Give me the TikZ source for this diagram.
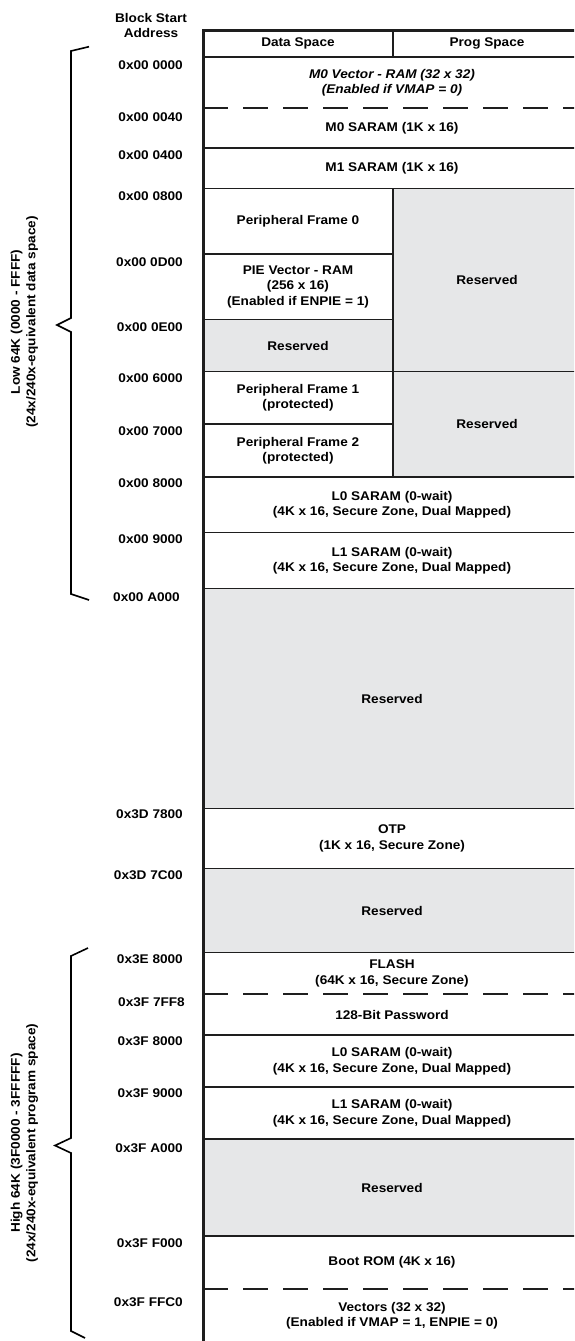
\documentclass[tikz,border=0pt]{standalone}
\usepackage{fontspec}
\setmainfont{Liberation Sans}[FakeStretch=1.08]
\newcommand\lblfont{\fontsize{12.6}{15.5}\selectfont\bfseries}
\definecolor{resgray}{RGB}{230,231,232}
\definecolor{ink}{RGB}{30,30,30}
\begin{document}
\begin{tikzpicture}[x=1pt,y=-1pt,
  cell/.style={anchor=north west, inner sep=0pt, outer sep=0pt, align=center,
               font=\lblfont, text=black, fill=white},
  res/.style={cell, fill=resgray},
  full/.style={minimum width=378pt},
  half/.style={minimum width=190pt},
  halfr/.style={minimum width=188pt},
  sep/.style={draw=ink, line width=1.3pt},
  dsep/.style={sep, dash pattern=on 25pt off 15pt},
  frame/.style={draw=ink, line width=3pt},
  brace/.style={draw=black, line width=1.6pt},
  addr/.style={anchor=east, inner sep=0pt, font=\lblfont},
  side/.style={rotate=90, align=center, inner sep=0pt, font=\lblfont}]
\clip (0,0) rectangle (574,1341);
\fill[white] (0,0) rectangle (574,1341);
% cells
\node[cell, half, minimum height=26.5pt] (dsh) at (203,30.5) {Data Space};
\node[cell, halfr, minimum height=26.5pt] (psh) at (393,30.5) {Prog Space};
\node[cell, full, minimum height=51pt] (m0v) at (203,57) {\itshape M0 Vector - RAM (32 x 32)\\\itshape (Enabled if VMAP = 0)};
\node[cell, full, minimum height=40pt] (m0s) at (203,108) {M0 SARAM (1K x 16)};
\node[cell, full, minimum height=40.5pt] (m1s) at (203,148) {M1 SARAM (1K x 16)};
\node[cell, half, minimum height=65.5pt] (pf0) at (203,188.5) {Peripheral Frame 0};
\node[res, halfr, minimum height=183pt] (resA) at (393,188.5) {Reserved};
\node[cell, half, minimum height=65.5pt] (pie) at (203,254) {PIE Vector - RAM\\(256 x 16)\\(Enabled if ENPIE = 1)};
\node[res, half, minimum height=52pt] (resB) at (203,319.5) {Reserved};
\node[cell, half, minimum height=52.5pt] (pf1) at (203,371.5) {Peripheral Frame 1\\(protected)};
\node[res, halfr, minimum height=105.5pt] (resC) at (393,371.5) {Reserved};
\node[cell, half, minimum height=53pt] (pf2) at (203,424) {Peripheral Frame 2\\(protected)};
\node[cell, full, minimum height=55.5pt] (l0) at (203,477) {L0 SARAM (0-wait)\\(4K x 16, Secure Zone, Dual Mapped)};
\node[cell, full, minimum height=56pt] (l1) at (203,532.5) {L1 SARAM (0-wait)\\(4K x 16, Secure Zone, Dual Mapped)};
\node[res, full, minimum height=220pt] (resD) at (203,588.5) {Reserved};
\node[cell, full, minimum height=60pt] (otp) at (203,808.5) {OTP\\(1K x 16, Secure Zone)};
\node[res, full, minimum height=84pt] (resE) at (203,868.5) {Reserved};
\node[cell, full, minimum height=41.5pt] (flash) at (203,952.5) {FLASH\\(64K x 16, Secure Zone)};
\node[cell, full, minimum height=41pt] (pw) at (203,994) {128-Bit Password};
\node[cell, full, minimum height=52pt] (l0h) at (203,1035) {L0 SARAM (0-wait)\\(4K x 16, Secure Zone, Dual Mapped)};
\node[cell, full, minimum height=52pt] (l1h) at (203,1087) {L1 SARAM (0-wait)\\(4K x 16, Secure Zone, Dual Mapped)};
\node[res, full, minimum height=97pt] (resF) at (203,1139) {Reserved};
\node[cell, full, minimum height=53pt] (boot) at (203,1236) {Boot ROM (4K x 16)};
\node[cell, full, minimum height=53pt] (vec) at (203,1289) {Vectors (32 x 32)\\(Enabled if VMAP = 1, ENPIE = 0)};
% separators
\draw[sep] (m0v.north west) -- (m0v.north east);
\draw[dsep] (m0s.north west) -- (m0s.north east);
\draw[sep] (m1s.north west) -- (m1s.north east);
\draw[sep] (pf0.north west) -- (resA.north east);
\draw[sep] (pie.north west) -- (pie.north east);
\draw[sep] (resB.north west) -- (resB.north east);
\draw[sep] (pf1.north west) -- (resC.north east);
\draw[sep] (pf2.north west) -- (pf2.north east);
\draw[sep] (l0.north west) -- (l0.north east);
\draw[sep] (l1.north west) -- (l1.north east);
\draw[sep] (resD.north west) -- (resD.north east);
\draw[sep] (otp.north west) -- (otp.north east);
\draw[sep] (resE.north west) -- (resE.north east);
\draw[sep] (flash.north west) -- (flash.north east);
\draw[dsep] (pw.north west) -- (pw.north east);
\draw[sep] (l0h.north west) -- (l0h.north east);
\draw[sep] (l1h.north west) -- (l1h.north east);
\draw[sep] (resF.north west) -- (resF.north east);
\draw[sep] (boot.north west) -- (boot.north east);
\draw[dsep] (vec.north west) -- (vec.north east);
\draw[sep] (psh.north west) -- (psh.south west);
\draw[sep] (resA.north west) -- (resC.south west);
% outer frame
\draw[frame] (vec.south west) -- (dsh.north west) -- (psh.north east) -- (vec.south east);
% header and addresses
\node[align=center, inner sep=0pt, font=\lblfont] (bsa) at (151,25.5) {Block Start\\Address};
\node[addr] (a0) at (183,65) {0x00 0000};
\node[addr] (a1) at (183,117) {0x00 0040};
\node[addr] (a2) at (183,155) {0x00 0400};
\node[addr] (a3) at (183,196) {0x00 0800};
\node[addr] (a4) at (183,262) {0x00 0D00};
\node[addr] (a5) at (183,327) {0x00 0E00};
\node[addr] (a6) at (183,378) {0x00 6000};
\node[addr] (a7) at (183,431) {0x00 7000};
\node[addr] (a8) at (183,483.5) {0x00 8000};
\node[addr] (a9) at (183,539) {0x00 9000};
\node[addr] (a10) at (180,597) {0x00 A000};
\node[addr] (a11) at (183,814.3) {0x3D 7800};
\node[addr] (a12) at (183,875.3) {0x3D 7C00};
\node[addr] (a13) at (183,959.3) {0x3E 8000};
\node[addr] (a14) at (185,1002) {0x3F 7FF8};
\node[addr] (a15) at (183,1040.7) {0x3F 8000};
\node[addr] (a16) at (183,1093.3) {0x3F 9000};
\node[addr] (a17) at (183,1148.3) {0x3F A000};
\node[addr] (a18) at (183,1243) {0x3F F000};
\node[addr] (a19) at (183,1301.7) {0x3F FFC0};
% braces
\draw[brace, line join=miter] (89,46.7) -- (71,51) -- (71,318) -- (57,325) -- (71,332) -- (71,594) -- (89,600);
\draw[brace, line join=miter] (88,948) -- (71,956) -- (71,1138) -- (55,1145.5) -- (71,1153) -- (71,1331) -- (85,1338);
\node[side] (lowlbl) at (24.3,322) {Low 64K (0000 - FFFF)\\(24x/240x-equivalent data space)};
\node[side] (highlbl) at (24.3,1143) {High 64K (3F0000 - 3FFFFF)\\(24x/240x-equivalent program space)};
\end{tikzpicture}
\end{document}
